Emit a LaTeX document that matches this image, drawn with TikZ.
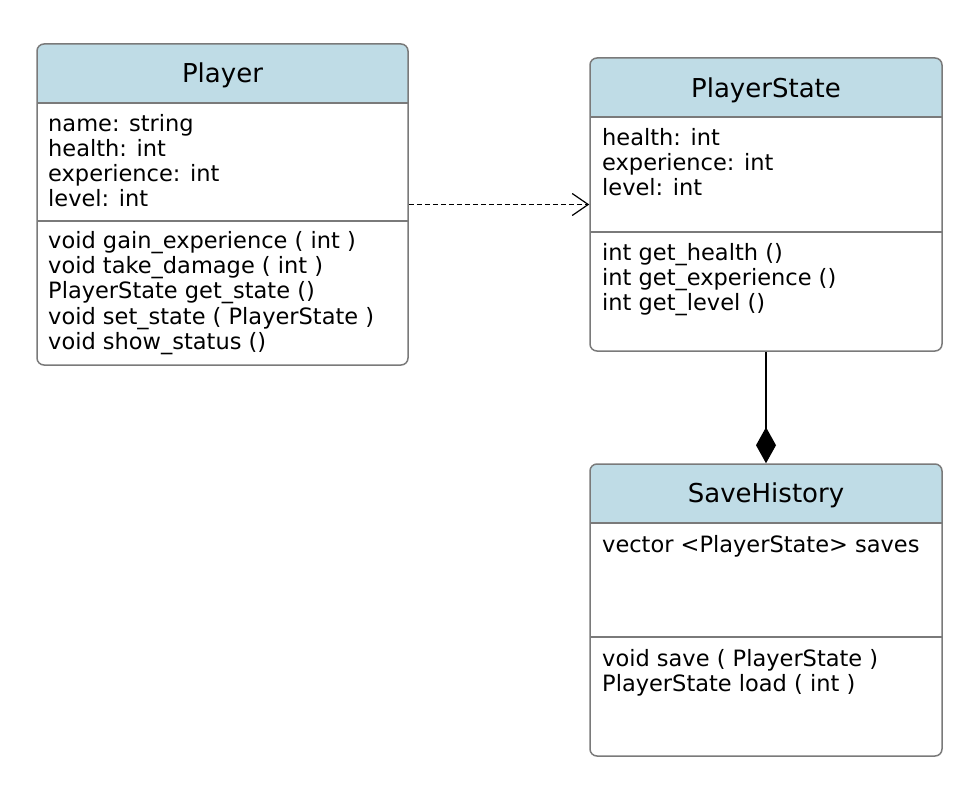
\documentclass[tikz,border=0pt]{standalone}
\usepackage{fontspec}
\setmainfont{DejaVu Sans}
\usetikzlibrary{arrows.meta}

\definecolor{headblue}{HTML}{BFDCE6}
\definecolor{boxgray}{HTML}{7A7A7A}

\tikzset{
	classbox/.style={draw=boxgray, line width=1.5pt, rounded corners=7pt, fill=white, inner sep=0pt},
	headline/.style={draw=boxgray, line width=1.5pt},
	classname/.style={font=\fontsize{26}{28}\selectfont},
	member/.style={anchor=west, inner sep=0pt, text height=16pt, text depth=5pt, font=\fontsize{22.5}{24}\selectfont},
}

\begin{document}
\begin{tikzpicture}[x=1pt,y=-1pt]
	\useasboundingbox (0,0) rectangle (964,800);

	% Player
	\begin{scope}
		\clip[rounded corners=7pt] (37,44) rectangle (408,365);
		\fill[headblue] (37,44) rectangle (408,103);
	\end{scope}
	\node[classbox, fill=none, minimum width=371pt, minimum height=321pt] (player) at (222.5,204.5) {};
	\draw[headline] (37,103) -- (408,103);
	\draw[headline] (37,221) -- (408,221);
	\node[classname] (playertitle) at (222.5,75) {Player};
	\node[member] (pa1) at (48,126) {name: string};
	\node[member] (pa2) at (48,151) {health: int};
	\node[member] (pa3) at (48,176) {experience: int};
	\node[member] (pa4) at (48,201) {level: int};
	\node[member] (pm1) at (48,243) {void gain\_experience ( int )};
	\node[member] (pm2) at (48,268) {void take\_damage ( int )};
	\node[member] (pm3) at (48,293) {PlayerState get\_state ()};
	\node[member] (pm4) at (48,319) {void set\_state ( PlayerState )};
	\node[member] (pm5) at (48,344) {void show\_status ()};

	% PlayerState
	\begin{scope}
		\clip[rounded corners=7pt] (590,58) rectangle (942,351);
		\fill[headblue] (590,58) rectangle (942,117);
	\end{scope}
	\node[classbox, fill=none, minimum width=352pt, minimum height=293pt] (state) at (766,204.5) {};
	\draw[headline] (590,117) -- (942,117);
	\draw[headline] (590,232) -- (942,232);
	\node[classname] (statetitle) at (766,90) {PlayerState};
	\node[member] (sa1) at (602,140) {health: int};
	\node[member] (sa2) at (602,165) {experience: int};
	\node[member] (sa3) at (602,190) {level: int};
	\node[member] (sm1) at (602,255) {int get\_health ()};
	\node[member] (sm2) at (602,280) {int get\_experience ()};
	\node[member] (sm3) at (602,305) {int get\_level ()};

	% SaveHistory
	\begin{scope}
		\clip[rounded corners=7pt] (590,464) rectangle (942,756);
		\fill[headblue] (590,464) rectangle (942,523);
	\end{scope}
	\node[classbox, fill=none, minimum width=352pt, minimum height=292pt] (history) at (766,610) {};
	\draw[headline] (590,523) -- (942,523);
	\draw[headline] (590,637) -- (942,637);
	\node[classname] (historytitle) at (766,495) {SaveHistory};
	\node[member] (ha1) at (602,547) {vector <PlayerState> saves};
	\node[member] (hm1) at (602,661) {void save ( PlayerState )};
	\node[member] (hm2) at (602,686) {PlayerState load ( int )};

	% relations
	\draw[line width=1.5pt, dash pattern=on 5pt off 3pt, -{Straight Barb[length=16pt, width=22pt, line width=1.2pt]}] (player.east) -- (state.west);
	\draw[line width=1.8pt, -{Diamond[length=36pt, width=20pt]}] (state.south) -- (history.north);

\end{tikzpicture}
\end{document}
